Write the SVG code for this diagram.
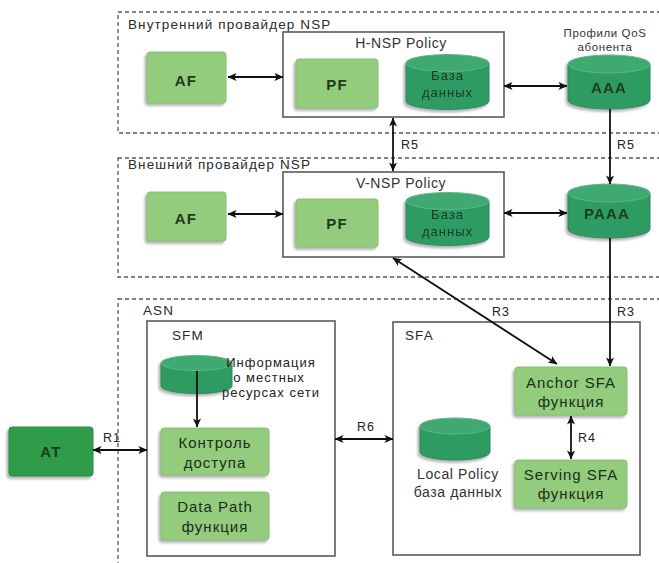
<svg xmlns="http://www.w3.org/2000/svg" width="659" height="563" viewBox="0 0 659 563">
  <style>
    .zone { fill: none; stroke: #5a5a5a; stroke-width: 1.3; stroke-dasharray: 4 3; }
    .frame { fill: #ffffff; stroke: #5a5a5a; stroke-width: 1.6; }
    .fn { fill: #93cc7c; stroke: #86c06f; stroke-width: 1; filter: url(#shade); }
    .term { fill: #2f9c48; stroke: #2a8c40; stroke-width: 1; filter: url(#shade); }
    .cyl-body { fill: #2e9b62; stroke: #2a8b58; stroke-width: 1; }
    .cyl-top { fill: #3fa972; stroke: #5cb888; stroke-width: 1; }
    .link { stroke: #111; stroke-width: 1.8; fill: none; }
    .both { marker-start: url(#tip); marker-end: url(#tip); }
    .one { marker-end: url(#tip); }
    text { font-family: "Liberation Sans", Arial, sans-serif; }
    .zt { font-size: 13.5px; fill: #2a2a2a; letter-spacing: 1.1px; }
    .ft { font-size: 14px; fill: #333; letter-spacing: 0.6px; text-anchor: middle; }
    .lbl { font-size: 13px; fill: #222; letter-spacing: 1px; text-anchor: middle; }
    .big { font-size: 15px; font-weight: bold; fill: #1d3a1a; letter-spacing: 1.2px; text-anchor: middle; }
    .fnt { font-size: 15px; fill: #1a2e1a; letter-spacing: 1px; text-anchor: middle; }
    .dbt { font-size: 13px; fill: #163a27; letter-spacing: 1px; text-anchor: middle; }
    .rl { font-size: 12.5px; fill: #222; letter-spacing: 1px; }
    .note { font-size: 11.5px; fill: #333; letter-spacing: 0.6px; text-anchor: middle; }
  </style>
  <defs>
    <marker id="tip" viewBox="0 0 10 10" refX="9.5" refY="5" markerWidth="5" markerHeight="5" orient="auto-start-reverse" markerUnits="strokeWidth">
      <path d="M0,0.5 L10,5 L0,9.5 L2.5,5 Z" fill="#111"/>
    </marker>
    <filter id="shade" x="-10%" y="-10%" width="120%" height="130%">
      <feDropShadow dx="-2" dy="2.5" stdDeviation="1.2" flood-color="#7a7a7a" flood-opacity="0.55"/>
    </filter>
  </defs>

  <!-- provider zones -->
  <g id="zone-home">
    <rect class="zone" x="118" y="12" width="600" height="121"/>
    <text class="zt" x="128" y="29">Внутренний провайдер NSP</text>
  </g>
  <g id="zone-visited">
    <rect class="zone" x="118" y="158" width="600" height="119"/>
    <text class="zt" x="128" y="169">Внешний провайдер NSP</text>
  </g>
  <g id="zone-asn">
    <rect class="zone" x="118" y="299" width="600" height="300"/>
    <text class="zt" x="143" y="315">ASN</text>
  </g>

  <!-- H-NSP policy block -->
  <g id="h-nsp-policy">
    <rect class="frame" x="283" y="32" width="221" height="85"/>
    <text class="ft" x="401" y="48">H-NSP Policy</text>
  </g>
  <g id="h-af">
    <rect class="fn" x="147" y="52" width="79" height="51" rx="3"/>
    <text class="big" x="186" y="86">AF</text>
  </g>
  <g id="h-pf">
    <rect class="fn" x="296" y="59" width="82" height="49" rx="3"/>
    <text class="big" x="337" y="90">PF</text>
  </g>
  <g id="h-db" filter="url(#shade)">
    <path class="cyl-body" d="M406,63 L406,101 A41.5,8.5 0 0 0 489,101 L489,63 Z"/>
    <ellipse class="cyl-top" cx="447.5" cy="63" rx="41.5" ry="8.5"/>
    <text class="dbt" x="447.5" y="80">База</text>
    <text class="dbt" x="447.5" y="97">данных</text>
  </g>
  <g id="aaa" filter="url(#shade)">
    <path class="cyl-body" d="M568,64 L568,100 A41,9 0 0 0 650,100 L650,64 Z"/>
    <ellipse class="cyl-top" cx="609" cy="64" rx="41" ry="9"/>
    <text class="big" x="609" y="93">AAA</text>
  </g>
  <g id="aaa-note">
    <text class="note" x="605" y="37">Профили QoS</text>
    <text class="note" x="605" y="51">абонента</text>
  </g>

  <!-- V-NSP policy block -->
  <g id="v-nsp-policy">
    <rect class="frame" x="283" y="172" width="221" height="85"/>
    <text class="ft" x="401" y="188">V-NSP Policy</text>
  </g>
  <g id="v-af">
    <rect class="fn" x="147" y="192" width="79" height="49" rx="3"/>
    <text class="big" x="186" y="224">AF</text>
  </g>
  <g id="v-pf">
    <rect class="fn" x="296" y="199" width="82" height="48" rx="3"/>
    <text class="big" x="337" y="229">PF</text>
  </g>
  <g id="v-db" filter="url(#shade)">
    <path class="cyl-body" d="M406,201 L406,237 A41.5,8.5 0 0 0 489,237 L489,201 Z"/>
    <ellipse class="cyl-top" cx="447.5" cy="201" rx="41.5" ry="8.5"/>
    <text class="dbt" x="447.5" y="219">База</text>
    <text class="dbt" x="447.5" y="236">данных</text>
  </g>
  <g id="paaa" filter="url(#shade)">
    <path class="cyl-body" d="M568,193 L568,229 A41,9 0 0 0 650,229 L650,193 Z"/>
    <ellipse class="cyl-top" cx="609" cy="193" rx="41" ry="9"/>
    <text class="big" x="607" y="219">PAAA</text>
  </g>

  <!-- ASN: terminal, SFM and SFA -->
  <g id="at">
    <rect class="term" x="9" y="427" width="84" height="49" rx="3"/>
    <text class="big" x="51" y="457">AT</text>
  </g>
  <g id="sfm">
    <rect class="frame" x="147" y="321" width="188" height="235"/>
    <text class="zt" x="172" y="340">SFM</text>
  </g>
  <g id="sfm-db" filter="url(#shade)">
    <path class="cyl-body" d="M161,363 L161,386 A35.5,7.5 0 0 0 232,386 L232,363 Z"/>
    <ellipse class="cyl-top" cx="196.5" cy="363" rx="35.5" ry="7.5"/>
  </g>
  <g id="sfm-db-note">
    <text class="lbl" x="271" y="367">Информация</text>
    <text class="lbl" x="269" y="382">о местных</text>
    <text class="lbl" x="271" y="397">ресурсах сети</text>
  </g>
  <g id="access-control">
    <rect class="fn" x="161" y="428" width="108" height="47" rx="3"/>
    <text class="fnt" x="215" y="448">Контроль</text>
    <text class="fnt" x="215" y="468">доступа</text>
  </g>
  <g id="data-path">
    <rect class="fn" x="161" y="492" width="108" height="48" rx="3"/>
    <text class="fnt" x="215" y="512">Data Path</text>
    <text class="fnt" x="215" y="532">функция</text>
  </g>
  <g id="sfa">
    <rect class="frame" x="393" y="322" width="247" height="233"/>
    <text class="zt" x="405" y="340">SFA</text>
  </g>
  <g id="local-policy-db" filter="url(#shade)">
    <path class="cyl-body" d="M420,426 L420,452 A35,8 0 0 0 490,452 L490,426 Z"/>
    <ellipse class="cyl-top" cx="455" cy="426" rx="35" ry="8"/>
  </g>
  <g id="local-policy-note">
    <text class="ft" x="458" y="479">Local Policy</text>
    <text class="ft" x="458" y="497">база данных</text>
  </g>
  <g id="anchor-sfa">
    <rect class="fn" x="515" y="367" width="112" height="48" rx="3"/>
    <text class="fnt" x="571" y="388">Anchor SFA</text>
    <text class="fnt" x="571" y="407">функция</text>
  </g>
  <g id="serving-sfa">
    <rect class="fn" x="515" y="460" width="112" height="48" rx="3"/>
    <text class="fnt" x="571" y="480">Serving SFA</text>
    <text class="fnt" x="571" y="499">функция</text>
  </g>

  <!-- reference points -->
  <g id="connectors">
    <line class="link both" x1="228" y1="77" x2="283" y2="77"/>
    <line class="link both" x1="504" y1="86" x2="567" y2="86"/>
    <line class="link both" x1="228" y1="214" x2="283" y2="214"/>
    <line class="link both" x1="504" y1="213" x2="567" y2="213"/>
    <line class="link both" x1="393" y1="118" x2="393" y2="171"/>
    <line class="link one" x1="610" y1="109" x2="610" y2="184"/>
    <line class="link one" x1="610" y1="238" x2="610" y2="366"/>
    <line class="link both" x1="393" y1="258" x2="557" y2="364"/>
    <line class="link one" x1="197" y1="371" x2="197" y2="427"/>
    <line class="link both" x1="93" y1="450" x2="147" y2="450"/>
    <line class="link both" x1="335" y1="439" x2="393" y2="439"/>
    <line class="link both" x1="571" y1="416" x2="571" y2="459"/>
    <text class="rl" x="401" y="149">R5</text>
    <text class="rl" x="617" y="149">R5</text>
    <text class="rl" x="492" y="316">R3</text>
    <text class="rl" x="617" y="316">R3</text>
    <text class="rl" x="103" y="442">R1</text>
    <text class="rl" x="357" y="431">R6</text>
    <text class="rl" x="578" y="442">R4</text>
  </g>
</svg>
